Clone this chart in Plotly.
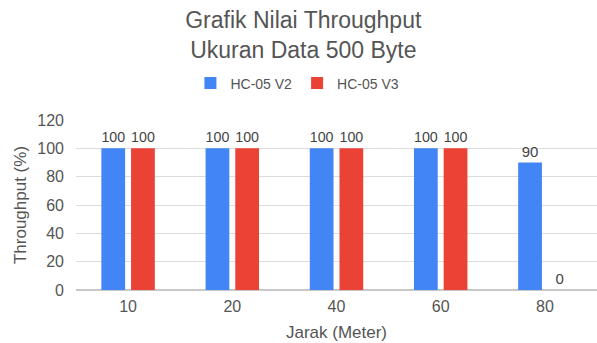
import plotly.graph_objects as go

categories = ["10", "20", "40", "60", "80"]
v2_values = [100, 100, 100, 100, 90]
v3_values = [100, 100, 100, 100, 0]
series_names = ["HC-05 V2", "HC-05 V3"]
y_ticks = [0, 20, 40, 60, 80, 100, 120]

FONT = "Liberation Sans, Arial, sans-serif"
BLUE = "#4285F4"
RED = "#EA4335"
TEXT = "#555555"

fig = go.Figure()
for name, vals, col in [(series_names[0], v2_values, BLUE), (series_names[1], v3_values, RED)]:
    fig.add_trace(go.Bar(
        x=categories, y=vals, name=name,
        marker=dict(color=col, line=dict(width=0)),
        text=[str(v) for v in vals], textposition="outside",
        textfont=dict(size=15, color="#444444", family=FONT),
        cliponaxis=False,
    ))

fig.update_layout(
    width=597, height=343,
    margin=dict(l=76, r=0, t=120, b=53),
    paper_bgcolor="white", plot_bgcolor="white",
    font=dict(family=FONT, color=TEXT),
    barmode="group", bargap=0.43, bargroupgap=0.2,
    title=dict(
        text="Grafik Nilai Throughput<br>Ukuran Data 500 Byte",
        x=0.508, xanchor="center", xref="container",
        y=0.918, yanchor="top", yref="container",
        font=dict(size=23, color=TEXT, family=FONT),
    ),
    legend=dict(
        orientation="h", x=0.425, xanchor="center", y=1.215, yanchor="middle",
        font=dict(size=14, color=TEXT, family=FONT),
        itemwidth=30, traceorder="normal",
    ),
    xaxis=dict(
        type="category", showgrid=False, showline=False, ticks="",
        tickfont=dict(size=16, color=TEXT), ticklabelstandoff=5,
        title=dict(text="Jarak (Meter)", font=dict(size=17, color=TEXT), standoff=12),
    ),
    yaxis=dict(
        range=[0, 120], tickvals=y_ticks, showgrid=True, gridcolor="#dcdcdc",
        zeroline=True, zerolinecolor="#c8c8c8", showline=False, ticks="",
        tickfont=dict(size=16, color=TEXT), ticklabelstandoff=11,
        title=dict(text="Throughput (%)", font=dict(size=17, color=TEXT), standoff=6),
    ),
)

fig.write_html("out.html")
